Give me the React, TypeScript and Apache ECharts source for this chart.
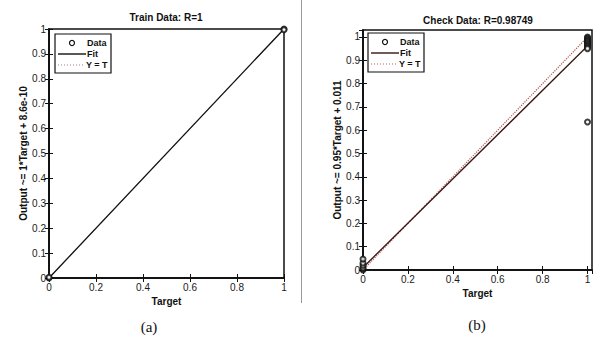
import React, { useEffect, useRef } from "react";
import * as echarts from "echarts";

// ---- data ----
const xTickInterval = 0.2;
const yTickInterval = 0.1;

const trainTitle = "Train Data: R=1";
const trainYName = "Output ~= 1*Target + 8.6e-10";
const trainData: number[][] = [[0, 0], [0, 0.003], [1, 1], [1, 0.997]];
const trainFitLine: number[][] = [[0, 0], [1, 1]];
const trainIdentity: number[][] = [[0, 0], [1, 1]];

const checkTitle = "Check Data: R=0.98749";
const checkYName = "Output ~= 0.95*Target + 0.011";
const checkData: number[][] = [
  [0, 0], [0, 0.005], [0, 0.01], [0, 0.02], [0, 0.03], [0, 0.047],
  [1, 1.0], [1, 0.995], [1, 0.99], [1, 0.985], [1, 0.98], [1, 0.975],
  [1, 0.97], [1, 0.965], [1, 0.96], [1, 0.955], [1, 0.95], [1, 0.635],
];
const checkFitLine: number[][] = [[0, 0.011], [1, 0.961]];
const checkIdentity: number[][] = [[0, 0], [1, 1]];

const legendLabels = ["Data", "Fit", "Y = T"];
const captions = ["(a)", "(b)"];

const FONT = "'Liberation Sans', Arial, sans-serif";

function legendGraphic(x0: number, y0: number, fitColor: string, idColor: string) {
  const font = `bold 9px ${FONT}`;
  return {
    type: "group",
    x: x0,
    y: y0,
    z: 100,
    children: [
      { type: "rect", shape: { x: 0, y: 0, width: 56, height: 39 }, style: { fill: "#fff", stroke: "#111", lineWidth: 1.2 } },
      { type: "circle", shape: { cx: 17, cy: 9, r: 2.5 }, style: { fill: "none", stroke: "#111", lineWidth: 1.2 } },
      { type: "text", x: 32, y: 9, style: { text: legendLabels[0], textVerticalAlign: "middle", font, fill: "#111" } },
      { type: "line", shape: { x1: 3, y1: 20, x2: 31, y2: 20 }, style: { stroke: fitColor, lineWidth: 1.4 } },
      { type: "text", x: 32, y: 20, style: { text: legendLabels[1], textVerticalAlign: "middle", font, fill: "#111" } },
      { type: "line", shape: { x1: 3, y1: 31, x2: 30, y2: 31 }, style: { stroke: idColor, lineWidth: 1, lineDash: [1, 2] } },
      { type: "text", x: 31, y: 31, style: { text: legendLabels[2], textVerticalAlign: "middle", font, fill: "#111" } },
    ],
  };
}

export default function App() {
  const ref = useRef<HTMLDivElement>(null);
  useEffect(() => {
    if (!ref.current) return;
    const chart = echarts.init(ref.current, null, { renderer: "svg" });

    const grids = [
      { left: 49, top: 29, width: 235, height: 249 },
      { left: 363, top: 30, width: 229, height: 240 },
    ];
    const ranges = [
      { xMax: 1, yMax: 1 },
      { xMax: 1.02, yMax: 1.03 },
    ];
    const yNames = [trainYName, checkYName];

    const xAxes: any[] = [];
    const yAxes: any[] = [];
    grids.forEach((g, i) => {
      const r = ranges[i];
      const base = {
        gridIndex: i,
        type: "value",
        min: 0,
        axisLine: { show: true, lineStyle: { color: "#111", width: 1.5 } },
        axisTick: { show: true, inside: true, length: 4, lineStyle: { color: "#111", width: 1 } },
        splitLine: { show: false },
      };
      xAxes.push({
        ...base,
        max: r.xMax,
        interval: xTickInterval,
        position: "bottom",
        name: "Target",
        nameLocation: "middle",
        nameGap: 17,
        nameTextStyle: { fontFamily: FONT, fontSize: 10, fontWeight: "bold", color: "#111" },
        axisLabel: { show: true, fontFamily: FONT, fontSize: 10, color: "#1a1a1a", margin: 4, showMaxLabel: i === 0 },
      });
      xAxes.push({
        ...base,
        max: r.xMax,
        interval: xTickInterval,
        position: "top",
        axisLabel: { show: false },
      });
      yAxes.push({
        ...base,
        max: r.yMax,
        interval: yTickInterval,
        position: "left",
        name: yNames[i],
        nameLocation: "middle",
        nameGap: 15,
        nameTextStyle: { fontFamily: FONT, fontSize: 10, fontWeight: "bold", color: "#111" },
        axisLabel: { show: true, fontFamily: FONT, fontSize: 10, color: "#1a1a1a", margin: 3, showMaxLabel: i === 0 },
      });
      yAxes.push({
        ...base,
        max: r.yMax,
        interval: yTickInterval,
        position: "right",
        axisLabel: { show: false },
      });
    });

    const lineSeries = (name: string, data: number[][], idx: number, color: string, type: any, width: number) => ({
      name,
      type: "line",
      xAxisIndex: idx * 2,
      yAxisIndex: idx * 2,
      data,
      symbol: "none",
      showSymbol: false,
      lineStyle: { color, type, width },
      itemStyle: { color },
      z: 2,
    });
    const scatterSeries = (data: number[][], idx: number) => ({
      name: "Data",
      type: "scatter",
      xAxisIndex: idx * 2,
      yAxisIndex: idx * 2,
      data,
      symbol: "emptyCircle",
      symbolSize: 5,
      itemStyle: { color: "#111", borderColor: "#111", borderWidth: 1.2 },
      z: 3,
    });

    chart.setOption({
      animation: false,
      backgroundColor: "#fff",
      grid: grids.map((g) => ({ ...g, show: true, borderColor: "#111", borderWidth: 1.5, backgroundColor: "transparent" })),
      xAxis: xAxes,
      yAxis: yAxes,
      series: [
        lineSeries("Y = T", trainIdentity, 0, "#b07070", "dotted", 1),
        lineSeries("Fit", trainFitLine, 0, "#111", "solid", 1.3),
        scatterSeries(trainData, 0),
        lineSeries("Y = T", checkIdentity, 1, "#b05050", "dotted", 1.2),
        lineSeries("Fit", checkFitLine, 1, "#3a1414", "solid", 1.3),
        scatterSeries(checkData, 1),
      ],
      graphic: [
        legendGraphic(55, 34, "#111", "#b08080"),
        legendGraphic(368, 33, "#3a1414", "#b06060"),
        {
          type: "text",
          x: 166,
          y: 17,
          style: { text: trainTitle, textAlign: "center", textVerticalAlign: "middle", font: `bold 10px ${FONT}`, fill: "#111" },
        },
        {
          type: "text",
          x: 478,
          y: 20,
          style: { text: checkTitle, textAlign: "center", textVerticalAlign: "middle", font: `bold 10px ${FONT}`, fill: "#111" },
        },
        {
          type: "line",
          shape: { x1: 301.5, y1: 0, x2: 301.5, y2: 303 },
          style: { stroke: "#9a9a9a", lineWidth: 1 },
        },
        {
          type: "text",
          x: 149,
          y: 327,
          style: { text: captions[0], textAlign: "center", textVerticalAlign: "middle", font: `15px 'Liberation Serif', 'Times New Roman', serif`, fill: "#111" },
        },
        {
          type: "text",
          x: 477,
          y: 325,
          style: { text: captions[1], textAlign: "center", textVerticalAlign: "middle", font: `15px 'Liberation Serif', 'Times New Roman', serif`, fill: "#111" },
        },
      ],
    });
    return () => chart.dispose();
  }, []);
  return (
    <div
      ref={ref}
      style={{ position: "absolute", left: 0, top: 0, width: 597, height: 337, background: "#fff" }}
    />
  );
}
